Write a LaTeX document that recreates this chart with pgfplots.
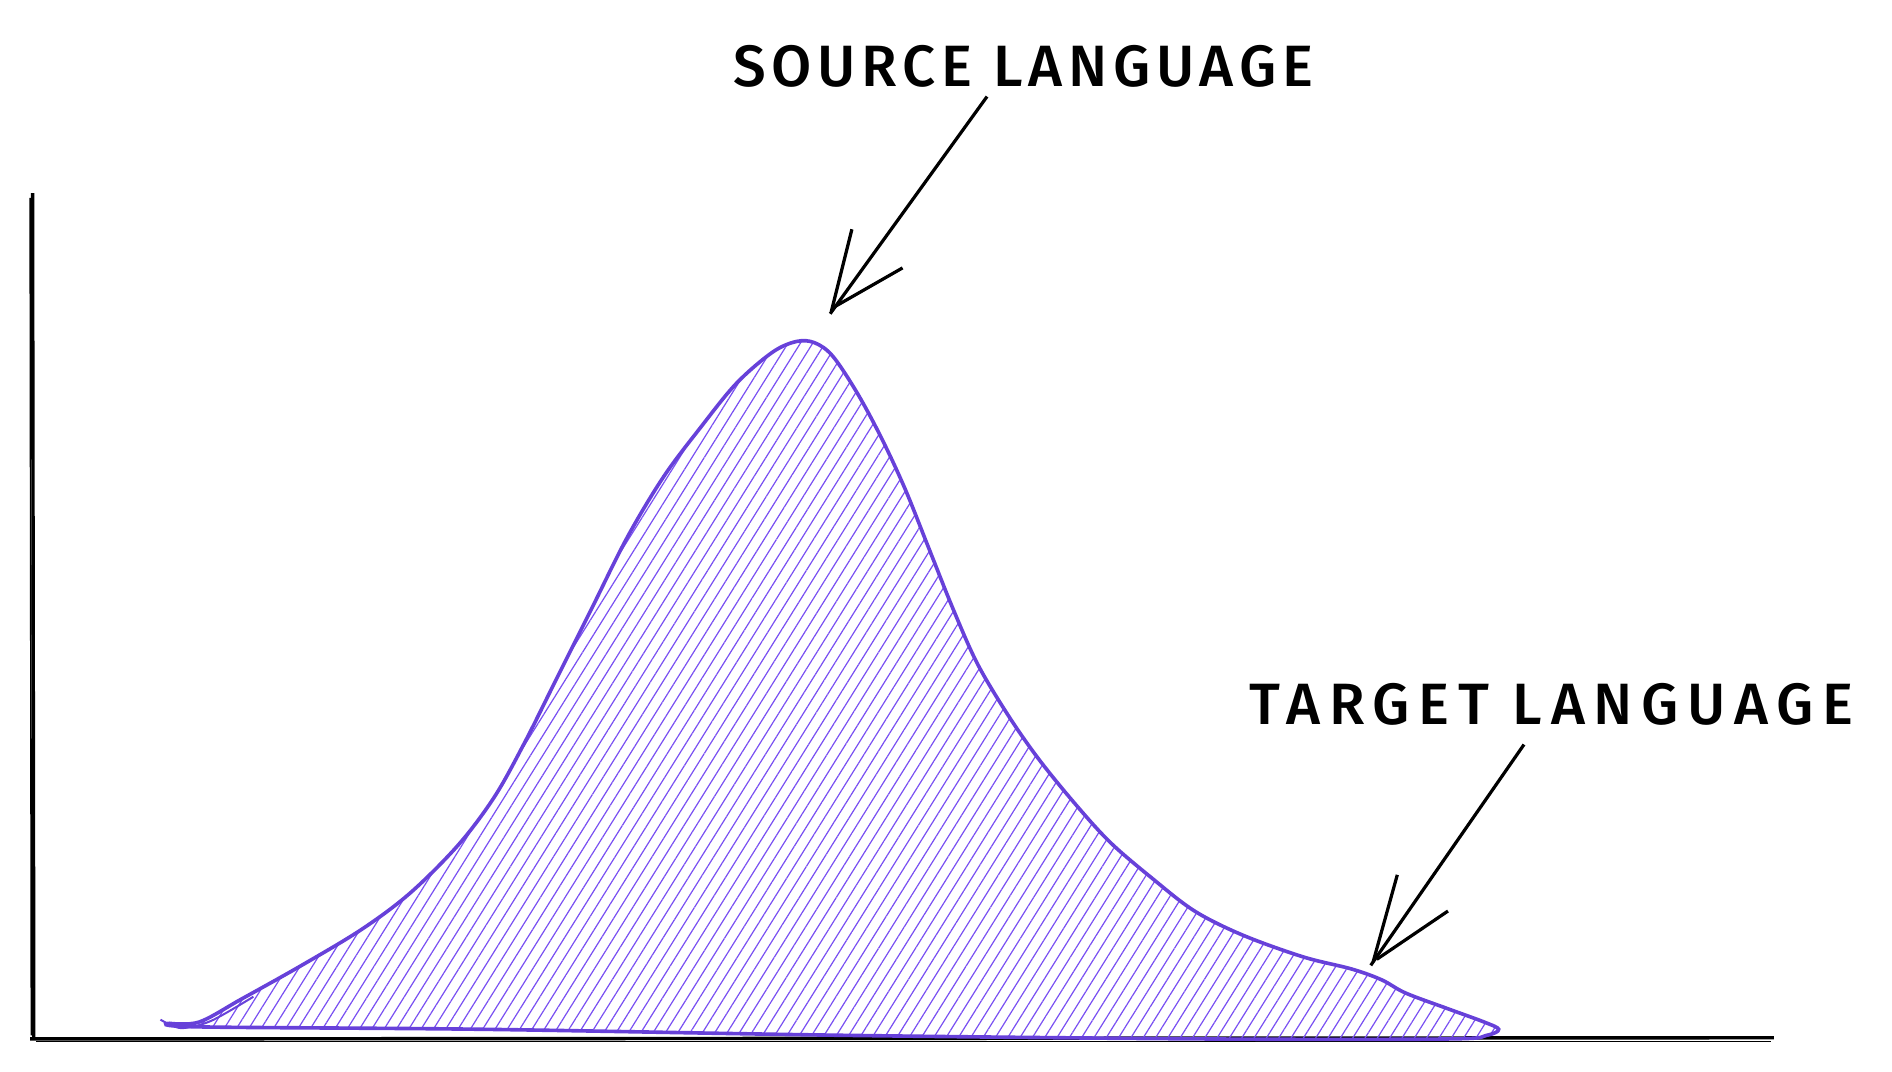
\documentclass[border=0pt]{standalone}
\usepackage{pgfplots}
\pgfplotsset{compat=1.18}
\usepackage{fontspec}
\newfontfamily\hand{Fira Sans}[LetterSpace=10, BoldFont={Fira Sans Medium}]
\newfontfamily\handb{Fira Sans}[LetterSpace=15, BoldFont={Fira Sans Medium}]
\usetikzlibrary{patterns.meta}
\definecolor{violetline}{HTML}{6741D9}
\definecolor{violethatch}{HTML}{7950F2}
\begin{document}
\begin{tikzpicture}
\begin{axis}[
  scale only axis, width=470.4pt, height=266.4pt,
  xmin=0, xmax=1568, ymin=0, ymax=888, y dir=reverse,
  hide axis, clip=false]
\path (axis cs:0,0) rectangle (axis cs:1568,888);
% axes
\addplot [black, line width=0.85pt] coordinates {(27,160) (28,861)};
\addplot [black, line width=0.4pt] coordinates {(25,164) (26,858)};
\addplot [black, line width=0.85pt] coordinates {(25,861) (1470,860)};
\addplot [black, line width=0.4pt] coordinates {(30,863) (1468,863)};
% distribution
\addplot [violetline, line width=0.9pt, smooth, tension=0.55,
  pattern={Lines[angle=58,distance=2.6pt,line width=0.3pt]}, pattern color=violethatch]
  coordinates {
  (140,848) (165,847) (200,828) (250,800) (300,770) (340,740) (380,700)
  (410,660) (435,615) (460,565) (490,505) (520,445) (550,395) (580,355)
  (610,318) (640,292) (660,283) (675,284) (690,295) (710,325) (730,362)
  (750,405) (770,455) (790,505) (810,550) (835,592) (860,628) (890,665)
  (920,698) (955,728) (990,755) (1030,775) (1080,793) (1120,803) (1145,812)
  (1165,823) (1200,836) (1230,847) (1242,853) (1232,858) (1200,861)
  (1000,861) (700,858) (400,853) (165,851) (140,848)};
\addplot [violetline, line width=0.5pt, smooth] coordinates {(133,845) (150,852) (175,846) (210,826)};
% arrows
\addplot [black, line width=0.8pt] coordinates {(818,80) (688,260)};
\addplot [black, line width=0.8pt] coordinates {(706,190) (689,258)};
\addplot [black, line width=0.8pt] coordinates {(748,222) (692,254)};
\addplot [black, line width=0.8pt] coordinates {(1263,617) (1136,800)};
\addplot [black, line width=0.8pt] coordinates {(1158,725) (1138,797)};
\addplot [black, line width=0.8pt] coordinates {(1200,755) (1141,795)};
% labels
\node [font=\hand\bfseries\fontsize{14.5}{16}\selectfont, anchor=base west, inner sep=0pt] at (axis cs:607,72) {SOURCE LANGUAGE};
\node [font=\handb\bfseries\fontsize{14.5}{16}\selectfont, anchor=base west, inner sep=0pt] at (axis cs:1035,600) {TARGET LANGUAGE};
\end{axis}
\end{tikzpicture}
\end{document}
